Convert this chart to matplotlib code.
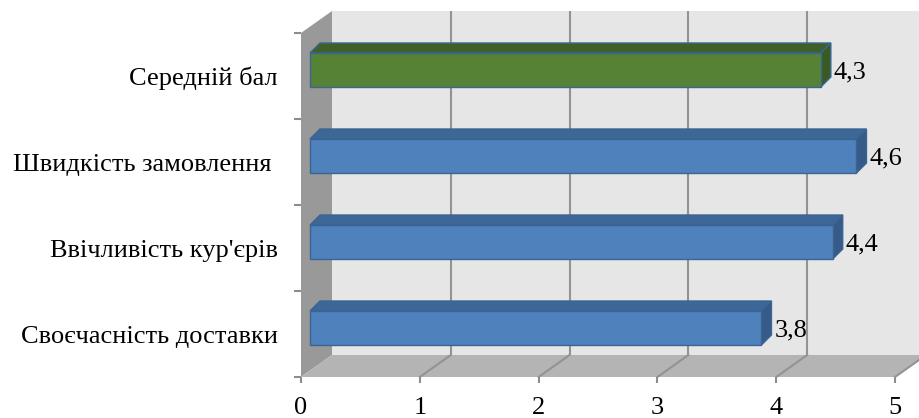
import matplotlib
matplotlib.use("Agg")
import matplotlib.pyplot as plt
from matplotlib.patches import Polygon, Rectangle

# Survey results: average rating per service aspect
categories = ["Своєчасність доставки", "Ввічливість кур'єрів",
              "Швидкість замовлення ", "Середній бал"]
values = [3.8, 4.4, 4.6, 4.3]
x_ticks = [0, 1, 2, 3, 4, 5]

plt.rcParams["font.family"] = ["Liberation Serif", "DejaVu Serif"]
FS = 19

W, H, DPI = 920, 418, 100
fig = plt.figure(figsize=(W / DPI, H / DPI), dpi=DPI)
fig.patch.set_facecolor("white")
PT = 72.0 / DPI  # points per pixel

# front plane of the pseudo-3D box (pixels)
left_px, right_px, top_px, bottom_px = 301, 895, 33, 377
ax = fig.add_axes([left_px / W, 1 - bottom_px / H,
                   (right_px - left_px) / W, (bottom_px - top_px) / H])
ax.set_xlim(0, 5)
ax.set_ylim(-0.5, len(categories) - 0.5)
ax.patch.set_visible(False)
for s in ax.spines.values():
    s.set_visible(False)

ppx = (right_px - left_px) / 5.0
ppy = (bottom_px - top_px) / len(categories)


def off(dx_px, dy_px):
    """pixel offset (right, up) expressed in data units"""
    return dx_px / ppx, dy_px / ppy


ymin, ymax = -0.5, len(categories) - 0.5
xmin, xmax = 0, 5
wdx, wdy = off(31, 22)  # depth of the box

wall_kw = dict(clip_on=False, linewidth=0)
# back wall
ax.add_patch(Polygon([(xmin + wdx, ymin + wdy), (xmax + wdx, ymin + wdy),
                      (xmax + wdx, ymax + wdy), (xmin + wdx, ymax + wdy)],
                     facecolor="#e6e6e6", zorder=1, **wall_kw))
# side wall
ax.add_patch(Polygon([(xmin, ymin), (xmin, ymax), (xmin + wdx, ymax + wdy),
                      (xmin + wdx, ymin + wdy)],
                     facecolor="#999999", zorder=1, **wall_kw))
# floor
ax.add_patch(Polygon([(xmin, ymin), (xmax, ymin), (xmax + wdx, ymin + wdy),
                      (xmin + wdx, ymin + wdy)],
                     facecolor="#b4b4b4", zorder=1, **wall_kw))

# gridlines on back wall and floor
for k in x_ticks[1:]:
    ax.plot([k + wdx, k + wdx], [ymin + wdy, ymax + wdy], color="#939393",
            lw=1.5, zorder=2, clip_on=False, solid_capstyle="butt")
    ax.plot([k, k + wdx], [ymin, ymin + wdy], color="#939393",
            lw=1.5, zorder=2, clip_on=False)

# bars
f_dx, f_dy = off(9, 6)     # bar front face depth
b_dx, b_dy = off(19, 16)   # bar back face depth
bar_h = 34 / ppy
colors = {
    "blue": ("#4f81bd", "#3d6797", "#365b89"),
    "green": ("#558235", "#3f6129", "#3a5a24"),
}
edge = "#3a6592"

for i, (cat, v) in enumerate(zip(categories, values)):
    front, top, side = colors["green"] if i == len(categories) - 1 else colors["blue"]
    x0 = xmin + f_dx
    y0 = i - bar_h / 2 + f_dy
    y1 = y0 + bar_h
    ddx, ddy = b_dx - f_dx, b_dy - f_dy
    kw = dict(clip_on=False, edgecolor=edge, linewidth=1.0, zorder=3 + (3 - i) * 0.1)
    ax.add_patch(Polygon([(x0, y1), (x0 + v, y1), (x0 + v + ddx, y1 + ddy),
                          (x0 + ddx, y1 + ddy)], facecolor=top, **kw))
    ax.add_patch(Polygon([(x0 + v, y0), (x0 + v, y1), (x0 + v + ddx, y1 + ddy),
                          (x0 + v + ddx, y0 + ddy)], facecolor=side, **kw))
    ax.add_patch(Rectangle((x0, y0), v, bar_h, facecolor=front, **kw))
    lx, _ = off(3, 0)
    ax.text(xmin + b_dx + v + lx, i + off(0, 4)[1], f"{v:.1f}".replace(".", ","),
            fontsize=FS, ha="left", va="center", zorder=5)

# axes ticks
ax.set_xticks(x_ticks)
ax.set_xticklabels([str(t) for t in x_ticks], fontsize=FS)
ax.tick_params(axis="x", length=6 * PT, width=1.5, color="#8c8c8c",
               pad=14 * PT, direction="out")

ax.set_yticks(range(len(categories)))
ax.set_yticklabels(categories, fontsize=FS)
ax.tick_params(axis="y", which="major", length=0, pad=23 * PT)
ax.set_yticks([b - 0.5 for b in range(len(categories) + 1)], minor=True)
ax.tick_params(axis="y", which="minor", length=7 * PT, width=1.5,
               color="#8c8c8c", direction="out")

fig.savefig("out.png", dpi=DPI, facecolor="white")
